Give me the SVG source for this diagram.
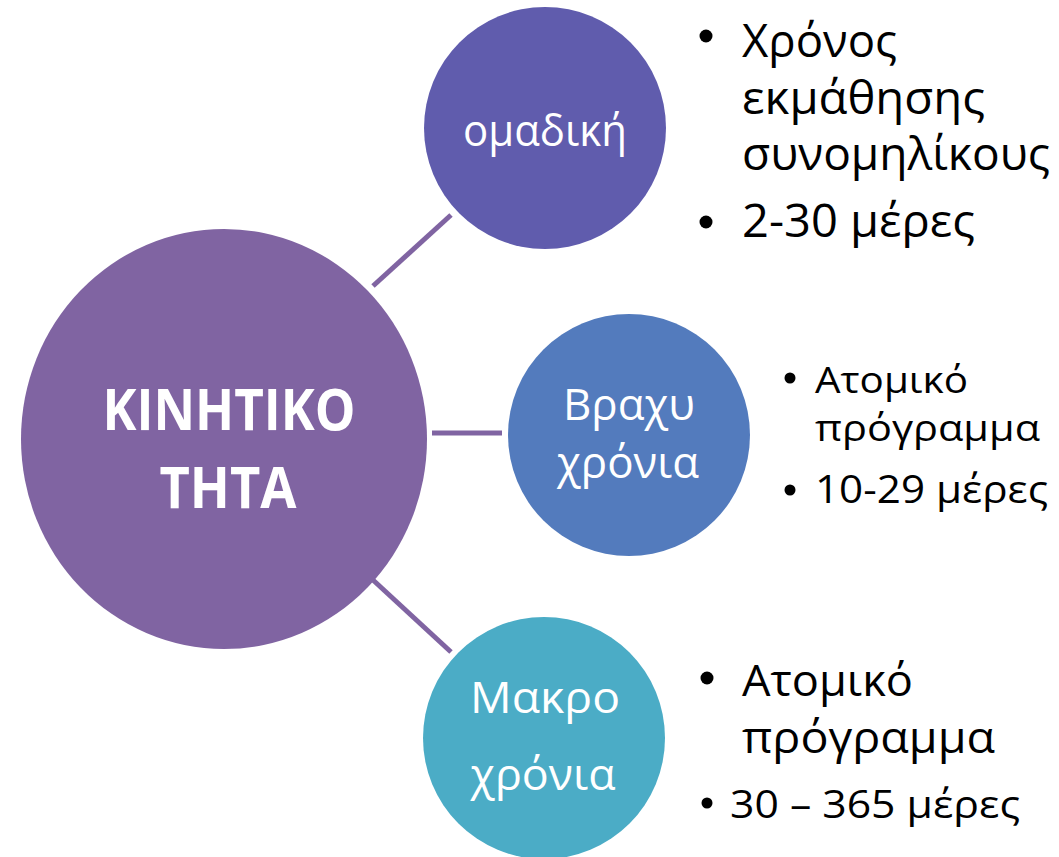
<svg xmlns="http://www.w3.org/2000/svg" width="1059" height="857" viewBox="0 0 1059 857">
<style>
.node-label{font-family:"Open Sans","Noto Sans","DejaVu Sans",sans-serif;fill:#ffffff;text-anchor:middle}
.bul{font-family:"Open Sans","Noto Sans","DejaVu Sans",sans-serif;fill:#000000}
.conn{stroke:#8064A2;stroke-width:5;fill:none}
</style>
<rect width="1059" height="857" fill="#ffffff"/>
<g id="connectors">
<line class="conn" x1="373" y1="286" x2="451" y2="215"/>
<line class="conn" x1="432" y1="433" x2="502" y2="433"/>
<line class="conn" x1="373" y1="580" x2="451" y2="652"/>
</g>
<g id="main">
<ellipse cx="224" cy="439" rx="203" ry="210" fill="#8064A2"/>
<text class="node-label" x="229" y="430" font-size="58" font-weight="bold" textLength="253" lengthAdjust="spacingAndGlyphs">ΚΙΝΗΤΙΚΟ</text>
<text class="node-label" x="228" y="508" font-size="58" font-weight="bold" textLength="137" lengthAdjust="spacingAndGlyphs">ΤΗΤΑ</text>
</g>
<g id="omadiki">
<circle cx="545" cy="128" r="121" fill="#605CAD"/>
<text class="node-label" x="545" y="146" font-size="44" textLength="164" lengthAdjust="spacingAndGlyphs">ομαδική</text>
</g>
<g id="vraxu">
<circle cx="629" cy="435" r="121" fill="#537BBD"/>
<text class="node-label" x="629" y="420" font-size="44" textLength="132" lengthAdjust="spacingAndGlyphs">Βραχυ</text>
<text class="node-label" x="628" y="478" font-size="44" textLength="142" lengthAdjust="spacingAndGlyphs">χρόνια</text>
</g>
<g id="makro">
<circle cx="544" cy="738" r="121" fill="#4BACC6"/>
<text class="node-label" x="545" y="713" font-size="44" textLength="150" lengthAdjust="spacingAndGlyphs">Μακρο</text>
<text class="node-label" x="543" y="790" font-size="44" textLength="145" lengthAdjust="spacingAndGlyphs">χρόνια</text>
</g>
<g id="notes-omadiki">
<circle cx="706" cy="36" r="6.5" fill="#000"/>
<text class="bul" x="742" y="57" font-size="46" textLength="155" lengthAdjust="spacingAndGlyphs">Χρόνος</text>
<text class="bul" x="742" y="114" font-size="46" textLength="243" lengthAdjust="spacingAndGlyphs">εκμάθησης</text>
<text class="bul" x="742" y="170" font-size="46" textLength="308" lengthAdjust="spacingAndGlyphs">συνομηλίκους</text>
<circle cx="706" cy="222" r="6.5" fill="#000"/>
<text class="bul" x="742" y="237" font-size="46" textLength="233" lengthAdjust="spacingAndGlyphs">2-30 μέρες</text>
</g>
<g id="notes-vraxu">
<circle cx="790" cy="378" r="5.5" fill="#000"/>
<text class="bul" x="815" y="393" font-size="37" textLength="153" lengthAdjust="spacingAndGlyphs">Ατομικό</text>
<text class="bul" x="815" y="441" font-size="37" textLength="225" lengthAdjust="spacingAndGlyphs">πρόγραμμα</text>
<circle cx="790" cy="490" r="5.5" fill="#000"/>
<text class="bul" x="815" y="503" font-size="38" textLength="233" lengthAdjust="spacingAndGlyphs">10-29 μέρες</text>
</g>
<g id="notes-makro">
<circle cx="707" cy="678" r="6.5" fill="#000"/>
<text class="bul" x="742" y="696" font-size="44" textLength="171" lengthAdjust="spacingAndGlyphs">Ατομικό</text>
<text class="bul" x="742" y="753" font-size="44" textLength="253" lengthAdjust="spacingAndGlyphs">πρόγραμμα</text>
<circle cx="707" cy="803" r="5.5" fill="#000"/>
<text class="bul" x="730" y="818" font-size="39" textLength="290" lengthAdjust="spacingAndGlyphs">30 – 365 μέρες</text>
</g>
</svg>
